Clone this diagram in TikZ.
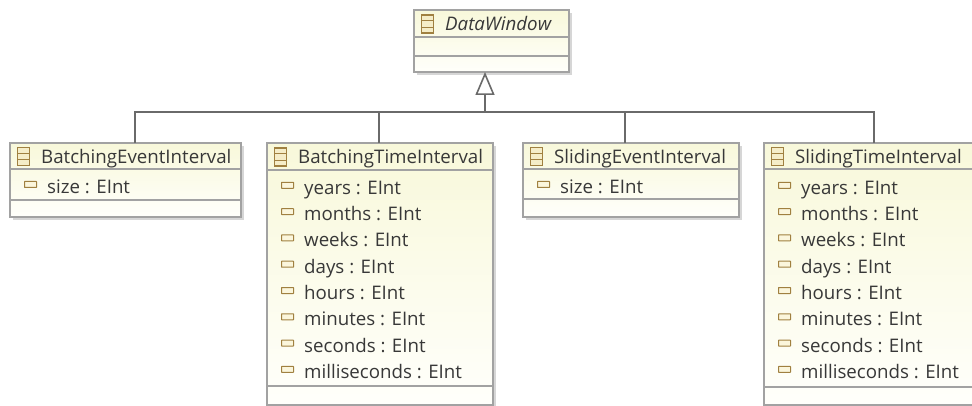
\documentclass[tikz,border=0pt]{standalone}
\usepackage{fontspec}
\setmainfont{Open Sans}
\usetikzlibrary{arrows.meta,calc}
\definecolor{linec}{HTML}{6A6A6A}
\definecolor{boxb}{HTML}{A2A2A2}
\definecolor{shad}{HTML}{D6D6D6}
\definecolor{filltop}{HTML}{F8F8DA}
\definecolor{fillbot}{HTML}{FFFFFB}
\definecolor{iconc}{HTML}{A08040}
\definecolor{iconfill}{HTML}{F5EDC8}
\definecolor{attrfill}{HTML}{FBF6DC}
\definecolor{txt}{HTML}{383838}
\tikzset{
  x=1pt, y=-1pt,
  classbox/.style={draw=boxb, line width=1.2pt, top color=filltop, bottom color=fillbot, inner sep=0pt, outer sep=0pt, anchor=north west},
  shadowbox/.style={fill=shad, draw=none, inner sep=0pt, outer sep=0pt, anchor=north west},
  sepline/.style={draw=boxb, line width=1.2pt},
  title/.style={font=\fontsize{18.7}{21}\selectfont, text=txt, anchor=base west, inner sep=0pt},
  attr/.style={font=\fontsize{18.7}{21}\selectfont, text=txt, anchor=base west, inner sep=0pt},
  clsicon/.style={draw=iconc, fill=iconfill, line width=1.1pt, minimum width=12pt, minimum height=18pt, inner sep=0pt},
  attricon/.style={draw=iconc, fill=attrfill, line width=1pt, minimum width=12pt, minimum height=6pt, inner sep=0pt, rounded corners=0.4pt},
  gen/.style={draw=linec, line width=1.6pt},
}
% #1 name, #2 left x, #3 top y, #4 width, #5 height, #6 first separator y, #7 second separator y, #8 title
\newcommand\umlclass[8]{%
  \node[shadowbox, minimum width=#4pt, minimum height=#5pt] (#1-sh) at (#2+3,#3+3) {};
  \node[classbox, minimum width=#4pt, minimum height=#5pt] (#1) at (#2,#3) {};
  \draw[sepline] (#2,#6) -- (#2+#4,#6);
  \draw[sepline] (#2,#7) -- (#2+#4,#7);
  \node[clsicon] (#1-ic) at (#2+13.5,{(#3+#6)/2+0.5}) {};
  \draw[draw=iconc, line width=1pt] ($(#1-ic.north west)!0.333!(#1-ic.south west)$) -- ($(#1-ic.north east)!0.333!(#1-ic.south east)$);
  \draw[draw=iconc, line width=1pt] ($(#1-ic.north west)!0.667!(#1-ic.south west)$) -- ($(#1-ic.north east)!0.667!(#1-ic.south east)$);
  \node[title] (#1-t) at (#2+31,#3+21) {#8};
}
% #1 name, #2 left x, #3 baseline y, #4 text, #5 index
\newcommand\umlattr[5]{%
  \node[attricon] (#1-ai#5) at (#2+20.5,#3-9) {};
  \node[attr] (#1-a#5) at (#2+37,#3) {#4};
}
\begin{document}
\begin{tikzpicture}
\useasboundingbox (0,0) rectangle (972,406);
\fill[white] (0,0) rectangle (972,406);

% DataWindow
\umlclass{dw}{414}{10}{155}{62}{37}{56}{\itshape DataWindow}

% BatchingEventInterval
\umlclass{bei}{10}{143}{231}{74}{169}{200}{BatchingEventInterval}
\umlattr{bei}{10}{193.5}{size : EInt}{1}

% BatchingTimeInterval
\umlclass{bti}{267}{143}{226}{262}{170}{386}{BatchingTimeInterval}
\foreach \t [count=\i from 0] in {years,months,weeks,days,hours,minutes,seconds,milliseconds}{
  \umlattr{bti}{267}{194.3+26.3*\i}{\t\ : EInt}{\i}
}

% SlidingEventInterval
\umlclass{sei}{523}{143}{216}{74}{169}{199}{SlidingEventInterval}
\umlattr{sei}{523}{193.5}{size : EInt}{1}

% SlidingTimeInterval
\umlclass{sti}{764}{143}{212}{262}{169}{387}{SlidingTimeInterval}
\foreach \t [count=\i from 0] in {years,months,weeks,days,hours,minutes,seconds,milliseconds}{
  \umlattr{sti}{764}{194.3+26.3*\i}{\t\ : EInt}{\i}
}

% generalization tree
\coordinate (j) at (485,112);
\draw[gen] ([xshift=9.5pt]bei.north) |- (j);
\draw[gen] ([xshift=-1pt]bti.north) |- (j);
\draw[gen] ([xshift=-6pt]sei.north) |- (j);
\draw[gen] ([xshift=4pt]sti.north) |- (j);
\draw[gen, -{Triangle[open, length=23pt, width=19pt, line width=1.6pt]}] (j) -- ([xshift=-6.5pt]dw.south);
\end{tikzpicture}
\end{document}
